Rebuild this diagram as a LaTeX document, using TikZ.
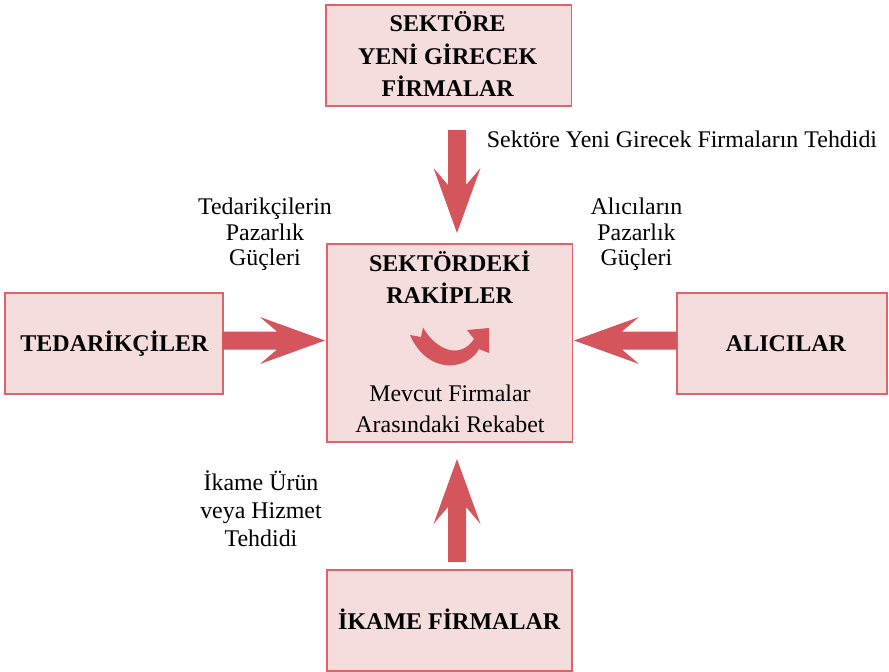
\documentclass[tikz,border=0pt]{standalone}
\usepackage{fontspec}
\setmainfont{Liberation Serif}
\definecolor{boxfill}{RGB}{245,221,222}
\definecolor{boxline}{RGB}{222,100,106}
\definecolor{arrowred}{RGB}{212,85,91}
\tikzset{
  box/.style={draw=boxline, fill=boxfill, line width=1.4pt, inner sep=0pt},
  bold/.style={font=\fontsize{24}{32}\selectfont\bfseries, inner sep=0pt, anchor=base},
  plain/.style={font=\fontsize{23.9}{28}\selectfont, inner sep=0pt, anchor=base},
  blockarrow/.pic={\fill[arrowred] (0,9) -- (55,9) -- (38,23.5) -- (103,0) -- (38,-23.5) -- (55,-9) -- (0,-9) -- cycle;}
}
\begin{document}
\begin{tikzpicture}[x=1pt,y=-1pt]
\useasboundingbox (0,0) rectangle (889,672);
% boxes
\node[box, minimum width=245.5pt, minimum height=101pt] (top) at (448.75,55.5) {};
\node[box, minimum width=245.5pt, minimum height=198pt] (rak) at (449.75,343) {};
\node[box, minimum width=218pt, minimum height=101pt] (ted) at (114,343.5) {};
\node[box, minimum width=210pt, minimum height=101pt] (alc) at (782,343.5) {};
\node[box, minimum width=245pt, minimum height=101pt] (ika) at (449.5,620.5) {};
% box texts
\node[bold] (top1) at (447.7,31.7) {SEKTÖRE};
\node[bold] (top2) at (447.7,64) {YENİ GİRECEK};
\node[bold] (top3) at (447.7,96.7) {FİRMALAR};
\node[bold] (rak1) at (449.7,271.7) {SEKTÖRDEKİ};
\node[bold] (rak2) at (449.7,303.3) {RAKİPLER};
\node[plain] (rak3) at (450,401) {Mevcut Firmalar};
\node[plain] (rak4) at (450,432.7) {Arasındaki Rekabet};
\node[bold] (tedt) at (114.5,351.7) {TEDARİKÇİLER};
\node[bold] (alct) at (786,351.7) {ALICILAR};
\node[bold] (ikat) at (449.2,629) {İKAME FİRMALAR};
% labels
\node[plain, anchor=base west] (lab1) at (486.7,147.7) {Sektöre Yeni Girecek Firmaların Tehdidi};
\node[plain] (lab2a) at (265,214) {Tedarikçilerin};
\node[plain] (lab2b) at (265,240) {Pazarlık};
\node[plain] (lab2c) at (265,265) {Güçleri};
\node[plain] (lab3a) at (636.5,214) {Alıcıların};
\node[plain] (lab3b) at (636.5,240) {Pazarlık};
\node[plain] (lab3c) at (636.5,265) {Güçleri};
\node[plain] (lab4a) at (261,490) {İkame Ürün};
\node[plain] (lab4b) at (261,518) {veya Hizmet};
\node[plain] (lab4c) at (261,546.5) {Tehdidi};
% big arrows
\coordinate (aTop) at (457,130);
\coordinate (aLeft) at (222,340.5);
\coordinate (aRight) at (677,340.5);
\coordinate (aBot) at (457,562);
\pic[rotate=-90] at (aTop) {blockarrow};
\pic at (aLeft) {blockarrow};
\pic[rotate=180] at (aRight) {blockarrow};
\pic[rotate=90] at (aBot) {blockarrow};
% curved arrow
\fill[arrowred] (423,327.5) .. controls (436,350) and (460,360) .. (474,339)
  -- (467,330) -- (489,328) -- (489,353) -- (479,349)
  .. controls (468,370) and (428,376) .. (410,335) -- (421,337) -- cycle;
\end{tikzpicture}
\end{document}
